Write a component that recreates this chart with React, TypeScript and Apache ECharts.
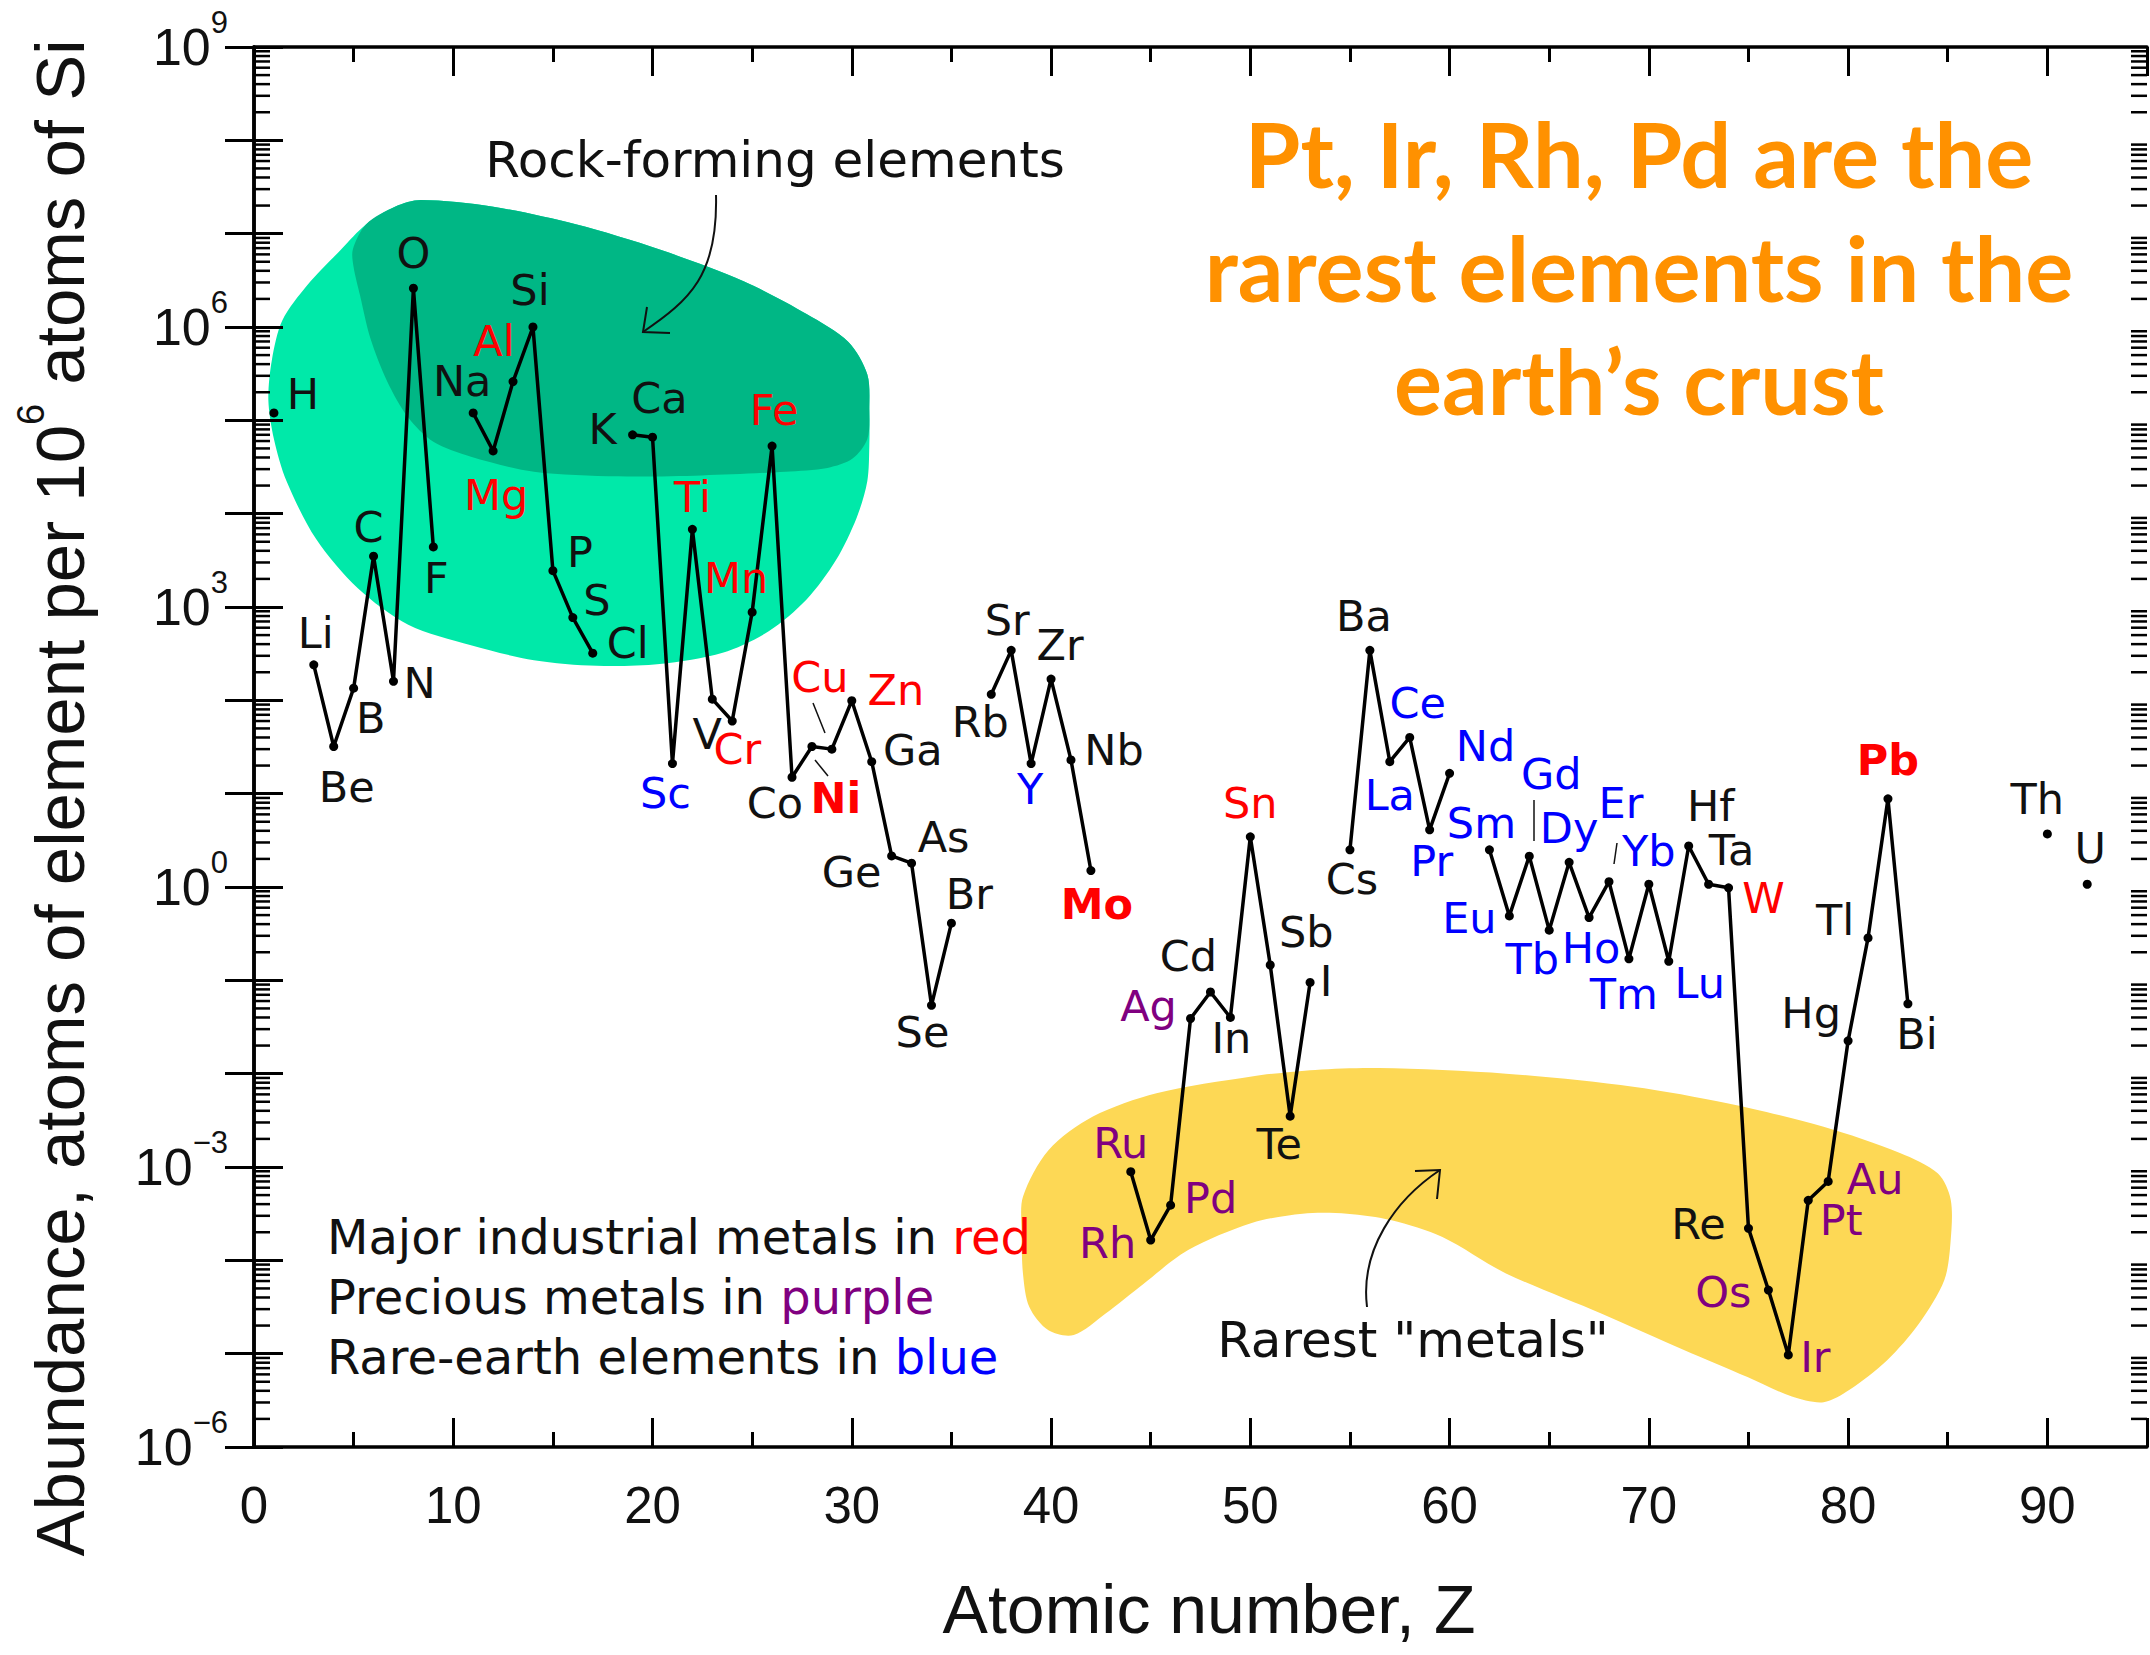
import React, { useEffect, useRef } from 'react';
import * as echarts from 'echarts';

// ---------- data ----------
const SYMBOLS = ['H','Li','Be','B','C','N','O','F','Na','Mg','Al','Si','P','S','Cl','K','Ca','Sc','Ti','V','Cr','Mn','Fe','Co','Ni','Cu','Zn','Ga','Ge','As','Se','Br','Rb','Sr','Y','Zr','Nb','Mo','Ru','Rh','Pd','Ag','Cd','In','Sn','Sb','Te','I','Cs','Ba','La','Ce','Pr','Nd','Sm','Eu','Gd','Tb','Dy','Ho','Er','Tm','Yb','Lu','Hf','Ta','W','Re','Os','Ir','Pt','Au','Hg','Tl','Pb','Bi','Th','U'];
const ATOMIC_NUMBERS = [1,3,4,5,6,7,8,9,11,12,13,14,15,16,17,19,20,21,22,23,24,25,26,27,28,29,30,31,32,33,34,35,37,38,39,40,41,42,44,45,46,47,48,49,50,51,52,53,55,56,57,58,59,60,62,63,64,65,66,67,68,69,70,71,72,73,74,75,76,77,78,79,80,81,82,83,90,92];
// atoms of element per 10^6 atoms of Si
const ABUNDANCE = [
  1.2e5, 240, 32, 135, 3500, 160, 2.6e6, 4400,
  1.2e5, 4.7e4, 2.6e5, 1e6, 2450, 770, 320,
  7.0e4, 6.6e4, 21, 6800, 103, 60, 880, 5.3e4, 15, 32, 30, 99, 22, 2.15, 1.8, 0.054, 0.41,
  116, 343, 21, 169, 23, 1.5,
  8.9e-4, 1.65e-4, 3.9e-4, 0.039, 0.075, 0.040, 3.45, 0.146, 3.5e-3, 0.095,
  2.5, 343, 22, 40, 4.1, 16.5,
  2.5, 0.49, 2.14, 0.345, 1.84, 0.47, 1.14, 0.17, 1.07, 0.16, 2.75, 1.07, 0.98, 2.2e-4, 4.8e-5, 9.7e-6, 4.4e-4, 7.0e-4, 0.0225, 0.285, 8.8, 0.056,
  3.7, 1.07,
];
const INDUSTRIAL_METALS = ['Mg','Al','Ti','Cr','Mn','Fe','Ni','Cu','Zn','Mo','Sn','W','Pb'];
const PRECIOUS_METALS = ['Ru','Rh','Pd','Ag','Os','Ir','Pt','Au'];
const RARE_EARTHS = ['Sc','Y','La','Ce','Pr','Nd','Sm','Eu','Gd','Tb','Dy','Ho','Er','Tm','Yb','Lu'];
const BOLD_LABELS = ['Ni','Mo','Pb'];
const X_MAX_Z = 95;
const Y_MIN = 1e-6;
const Y_MAX = 1e9;
const Y_LABEL_EVERY = 3;
const MINOR_MULTIPLIERS = [2,3,4,5,6,7,8,9];

// label offsets (px) relative to each element's point, same order as SYMBOLS
const LABEL_OFFSETS = [
  [29,-19],[2,-32],[13,40],[17,30],[-5,-29],[26,2],[0,-35],[3,31],
  [-11,-32],[3,44],[-19,-41],[-3,-37],[27,-19],[24,-18],[35,-10],
  [-30,-6],[7,-39],[-7,29],[0,-32],[-5,35],[5,28],[-16,-34],[2,-36],[-17,26],[24,51],[-12,-72],[44,-11],[41,-12],[-40,16],[32,-26],[-9,27],[18,-29],
  [-11,28],[-4,-30],[-1,25],[9,-34],[43,-10],[6,33],
  [-10,-29],[-43,3],[40,-7],[-42,-13],[-22,-36],[1,21],[0,-34],[36,-33],[-11,28],[16,-1],
  [2,29],[-6,-34],[0,33],[8,-34],[2,31],[36,-27],
  [-8,-27],[-40,2],[22,-82],[-17,29],[0,-34],[2,30],[12,-79],[-5,35],[0,-33],[31,22],[22,-40],[23,-34],[35,10],[-50,-4],[-45,2],[27,2],[33,20],[47,-2],[-37,-28],[-33,-18],[0,-39],[9,30],
  [-10,-35],[3,-36],
];

// highlighted regions, outline in [Z, log10(abundance)]
const ROCK_OUTER = [[0.72,5.22],[0.9,5.65],[1.42,6.07],[2.68,6.45],[4.37,6.83],[5.63,7.10],[7.10,7.29],[8.37,7.36],[11.94,7.29],[16.15,7.10],[20.36,6.83],[24.57,6.49],[27.73,6.14],[29.83,5.84],[30.78,5.49],[30.88,5.11],[30.88,4.73],[30.78,4.35],[30.25,3.96],[29.20,3.50],[27.73,3.08],[25.83,2.74],[23.52,2.51],[20.36,2.39],[17.20,2.37],[14.05,2.43],[10.89,2.59],[7.74,2.81],[5.21,3.20],[3.11,3.73],[1.63,4.35],[1.00,4.80]];
const ROCK_CORE = [[4.96,6.83],[5.63,7.10],[7.10,7.29],[8.37,7.36],[11.94,7.29],[16.15,7.10],[20.36,6.83],[24.57,6.49],[27.73,6.14],[29.83,5.84],[30.78,5.49],[30.88,5.11],[30.78,4.80],[30.04,4.59],[28.78,4.49],[26.67,4.45],[22.47,4.41],[18.26,4.40],[14.05,4.45],[10.89,4.61],[9.00,4.77],[7.74,5.03],[6.68,5.42],[5.84,5.88],[5.32,6.34],[5.0,6.64]];
const RAREST_BAND = [[38.59,-3.32],[39.87,-2.82],[42.10,-2.46],[45.29,-2.21],[50.07,-2.03],[53.26,-1.96],[56.45,-1.94],[62.83,-2.00],[69.21,-2.14],[73.99,-2.32],[78.77,-2.57],[82.60,-2.85],[84.51,-3.07],[85.15,-3.35],[85.15,-3.78],[84.83,-4.21],[83.55,-4.68],[81.96,-5.07],[80.05,-5.39],[78.77,-5.52],[77.18,-5.46],[74.95,-5.25],[71.76,-4.96],[67.61,-4.57],[62.83,-4.14],[59.64,-3.75],[57.09,-3.57],[54.86,-3.50],[52.62,-3.50],[50.07,-3.60],[46.88,-3.89],[44.65,-4.25],[42.74,-4.57],[41.14,-4.80],[39.87,-4.75],[38.91,-4.50],[38.59,-4.14],[38.53,-3.71]];

// ---------- styles ----------
const RED = '#ff0000';
const PURPLE = '#800080';
const BLUE = '#0000ff';
const INK = '#111111';
const LIGHT_GREEN = '#00e9a9';
const DARK_GREEN = '#00b785';
const YELLOW = '#fdd855';
const ORANGE = '#ff9100';
const LABEL_FONT = 'DejaVu Sans';
const AXIS_FONT = 'Liberation Sans';

function colorFor(sym: string) {
  if (INDUSTRIAL_METALS.includes(sym)) return RED;
  if (PRECIOUS_METALS.includes(sym)) return PURPLE;
  if (RARE_EARTHS.includes(sym)) return BLUE;
  return INK;
}

function buildLineData() {
  const idx = new Map<number, number>();
  ATOMIC_NUMBERS.forEach((z, i) => idx.set(z, i));
  const out: any[] = [];
  const maxZ = ATOMIC_NUMBERS[ATOMIC_NUMBERS.length - 1];
  for (let z = 1; z <= maxZ; z++) {
    const i = idx.get(z);
    if (i === undefined) {
      out.push({ value: [z, '-'] });
      continue;
    }
    const sym = SYMBOLS[i];
    out.push({
      value: [z, ABUNDANCE[i]],
      name: sym,
      label: {
        show: true,
        offset: LABEL_OFFSETS[i],
        color: colorFor(sym),
        fontWeight: BOLD_LABELS.includes(sym) ? 'bold' : 'normal',
      },
    });
  }
  return out;
}

function yLabel(v: number) {
  const e = Math.round(Math.log10(v));
  if (e % Y_LABEL_EVERY !== 0) return '';
  const ex = e < 0 ? '\u2212' + String(-e) : String(e);
  return '{b|10}{s|' + ex + '}';
}

export default function App() {
  const ref = useRef<HTMLDivElement>(null);
  useEffect(() => {
    const chart = echarts.init(ref.current!, null, { renderer: 'svg' });
    const axisLine = { show: true, lineStyle: { color: '#000', width: 3.5 } };
    const majorTick = { show: true, inside: true, length: 29, lineStyle: { color: '#000', width: 3 } };
    const minorTick = { show: true, inside: true, length: 15, lineStyle: { color: '#000', width: 3 } };
    const xBase: any = { type: 'value', min: 0, max: X_MAX_Z, splitLine: { show: false }, z: 10 };
    const yBase: any = {
      type: 'log', logBase: 10, min: Y_MIN, max: Y_MAX, interval: 1, splitNumber: 15,
      splitLine: { show: false }, z: 10, axisLine, axisTick: majorTick,
    };
    const headline = (text: string, y: number) => ({
      type: 'text', x: 1639, y, silent: true, z: 20,
      style: { text, fontSize: 90, fontWeight: 'bold', fontFamily: 'Lato', fill: ORANGE, align: 'center', verticalAlign: 'middle' },
    });
    const note = (text: string, x: number, y: number) => ({
      type: 'text', x, y, silent: true, z: 20,
      style: { text, fontSize: 50, fontFamily: LABEL_FONT, fill: INK, align: 'center', verticalAlign: 'middle' },
    });
    const key = (text: string, y: number, tag: string, color: string) => ({
      type: 'text', x: 327, y, silent: true, z: 20,
      style: { text, fontSize: 48, fontFamily: LABEL_FONT, fill: INK, align: 'left', verticalAlign: 'middle',
        rich: { [tag]: { fill: color, fontSize: 48, fontFamily: LABEL_FONT } } },
    });
    const thin = (x1: number, y1: number, x2: number, y2: number) => ({
      type: 'line', silent: true, z: 20, shape: { x1, y1, x2, y2 }, style: { stroke: INK, lineWidth: 1.5 },
    });

    const option: any = {
      animation: false,
      backgroundColor: '#ffffff',
      grid: { left: 254, top: 47, width: 1900, height: 1400, containLabel: false },
      xAxis: [
        { ...xBase, position: 'bottom', interval: 10, axisLine, axisTick: majorTick,
          axisLabel: { show: true, margin: 33, fontSize: 51, fontFamily: AXIS_FONT, color: INK,
            formatter: (v: number) => (v % 10 === 0 ? String(v) : '') } },
        { ...xBase, position: 'bottom', interval: 5, axisLine: { show: false }, axisTick: minorTick, axisLabel: { show: false } },
        { ...xBase, position: 'top', interval: 10, axisLine, axisTick: majorTick, axisLabel: { show: false } },
        { ...xBase, position: 'top', interval: 5, axisLine: { show: false }, axisTick: minorTick, axisLabel: { show: false } },
      ],
      yAxis: [
        { ...yBase, position: 'left',
          axisLabel: { show: true, margin: 26, formatter: yLabel, color: INK,
            rich: {
              b: { fontSize: 52, fontFamily: AXIS_FONT, color: INK, lineHeight: 80 },
              s: { fontSize: 31, fontFamily: AXIS_FONT, color: INK, lineHeight: 38, verticalAlign: 'top' },
            } } },
        { ...yBase, position: 'right', axisLabel: { show: false } },
      ],
      series: [
        {
          type: 'custom',
          name: 'regions',
          coordinateSystem: 'cartesian2d',
          xAxisIndex: 0, yAxisIndex: 0,
          silent: true,
          z: 1,
          data: [[0, 1]],
          renderItem: (params: any, api: any) => {
            const toPts = (arr: number[][]) => arr.map(([z, l]) => api.coord([z, Math.pow(10, l)]));
            return {
              type: 'group',
              children: [
                { type: 'polygon', shape: { points: toPts(ROCK_OUTER), smooth: 0.3 }, style: { fill: LIGHT_GREEN } },
                { type: 'polygon', shape: { points: toPts(ROCK_CORE), smooth: 0.3 }, style: { fill: DARK_GREEN } },
                { type: 'polygon', shape: { points: toPts(RAREST_BAND), smooth: 0.3 }, style: { fill: YELLOW } },
              ],
            };
          },
        },
        {
          type: 'custom',
          name: 'minor y ticks',
          coordinateSystem: 'cartesian2d',
          xAxisIndex: 0, yAxisIndex: 0,
          silent: true,
          z: 12,
          data: [[0, 1]],
          renderItem: (params: any, api: any) => {
            const cs = params.coordSys;
            const children: any[] = [];
            const e0 = Math.round(Math.log10(Y_MIN));
            const e1 = Math.round(Math.log10(Y_MAX));
            for (let e = e0; e < e1; e++) {
              for (const m of MINOR_MULTIPLIERS) {
                const y = api.coord([0, m * Math.pow(10, e)])[1];
                children.push({ type: 'line', shape: { x1: cs.x, y1: y, x2: cs.x + 16, y2: y }, style: { stroke: '#000', lineWidth: 2.5 } });
                children.push({ type: 'line', shape: { x1: cs.x + cs.width, y1: y, x2: cs.x + cs.width - 16, y2: y }, style: { stroke: '#000', lineWidth: 2.5 } });
              }
            }
            return { type: 'group', children };
          },
        },
        {
          type: 'line',
          name: 'abundance',
          xAxisIndex: 0, yAxisIndex: 0,
          z: 5,
          data: buildLineData(),
          connectNulls: false,
          symbol: 'circle',
          symbolSize: 9,
          showSymbol: true,
          itemStyle: { color: '#000' },
          lineStyle: { color: '#000', width: 3.5 },
          label: {
            show: true,
            position: 'inside',
            formatter: (p: any) => p.name || '',
            fontSize: 43,
            fontFamily: LABEL_FONT,
            color: INK,
          },
          emphasis: { disabled: true },
        },
      ],
      graphic: [
        // axis titles
        { type: 'text', x: 60, y: 798, rotation: Math.PI / 2, silent: true,
          style: { text: '{a|Abundance, atoms of element per 10}{s|6}{a| atoms of Si}', align: 'center', verticalAlign: 'middle',
            rich: {
              a: { fontSize: 69, fontFamily: AXIS_FONT, fill: INK, lineHeight: 96 },
              s: { fontSize: 38, fontFamily: AXIS_FONT, fill: INK, lineHeight: 34, verticalAlign: 'top' },
            } } },
        { type: 'text', x: 1209, y: 1609, silent: true,
          style: { text: 'Atomic number, Z', fontSize: 68, fontFamily: AXIS_FONT, fill: INK, align: 'center', verticalAlign: 'middle' } },
        // orange headline
        headline('Pt, Ir, Rh, Pd are the', 153),
        headline('rarest elements in the', 267),
        headline('earth\u2019s crust', 380),
        // annotations
        note('Rock-forming elements', 775, 160),
        note('Rarest "metals"', 1413, 1340),
        { type: 'bezierCurve', silent: true, z: 20,
          shape: { x1: 716, y1: 195, cpx1: 718, cpy1: 275, cpx2: 690, cpy2: 300, x2: 643, y2: 332 },
          style: { stroke: INK, lineWidth: 2, fill: 'none' } },
        { type: 'polyline', silent: true, z: 20,
          shape: { points: [[647, 307], [643, 332], [670, 333]] },
          style: { stroke: INK, lineWidth: 2, fill: 'none' } },
        { type: 'bezierCurve', silent: true, z: 20,
          shape: { x1: 1367, y1: 1307, cpx1: 1360, cpy1: 1250, cpx2: 1395, cpy2: 1200, x2: 1440, y2: 1170 },
          style: { stroke: INK, lineWidth: 2, fill: 'none' } },
        { type: 'polyline', silent: true, z: 20,
          shape: { points: [[1415, 1171], [1440, 1170], [1437, 1199]] },
          style: { stroke: INK, lineWidth: 2, fill: 'none' } },
        // leader lines
        thin(815, 760, 828, 776),
        thin(813, 703, 825, 733),
        thin(1534, 800, 1534, 841),
        thin(1617, 843, 1614, 864),
        // colour key
        key('Major industrial metals in {r|red}', 1237, 'r', RED),
        key('Precious metals in {p|purple}', 1297, 'p', PURPLE),
        key('Rare-earth elements in {b|blue}', 1357, 'b', BLUE),
      ],
    };
    chart.setOption(option);
    return () => chart.dispose();
  }, []);
  return (
    <div
      ref={ref}
      style={{ position: 'fixed', left: 0, top: 0, width: 2150, height: 1655, background: '#fff' }}
    />
  );
}
